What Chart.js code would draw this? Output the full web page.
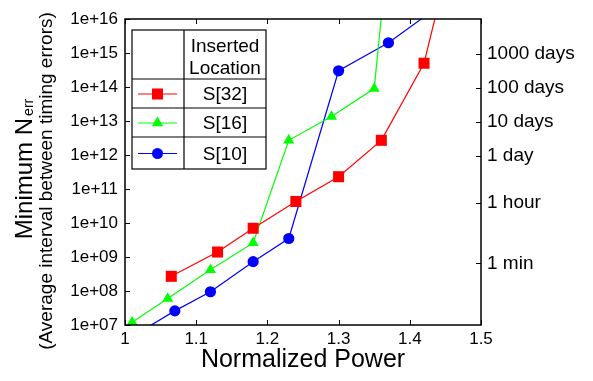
<!DOCTYPE html>
<html lang="en">
<head>
    <meta charset="UTF-8">
    <title>Minimum Nerr vs Normalized Power</title>
    <script src="https://cdn.jsdelivr.net/npm/chart.js"></script>
    <style>
        body { margin: 0; background: #fff; }
    </style>
</head>
<body>
    <canvas id="myChart" width="593" height="381"></canvas>
    <script>
        // Data (x = normalized power, y = minimum N_err)
        const powerS32 = [1.065, 1.13, 1.18, 1.24, 1.30, 1.36, 1.42, 1.44];
        const nerrS32  = [2.7e8, 1.4e9, 7e9, 4.3e10, 2.3e11, 2.7e12, 5e14, 2.6e16];

        const powerS16 = [1.01, 1.06, 1.12, 1.18, 1.23, 1.29, 1.35, 1.37];
        const nerrS16  = [1.2e7, 6e7, 4.2e8, 2.6e9, 2.7e12, 1.35e13, 9e13, 1.5e18];

        const powerS10 = [1.01, 1.07, 1.12, 1.18, 1.23, 1.30, 1.37, 1.44];
        const nerrS10  = [4.6e6, 2.6e7, 9.5e7, 7.3e8, 3.5e9, 3e14, 2e15, 2.3e16];

        // Tick labels
        const xTicks = [1, 1.1, 1.2, 1.3, 1.4, 1.5];
        const xTickLabels = ['1', '1.1', '1.2', '1.3', '1.4', '1.5'];
        const yTicks = [1e7, 1e8, 1e9, 1e10, 1e11, 1e12, 1e13, 1e14, 1e15, 1e16];
        const yTickLabels = ['1e+07', '1e+08', '1e+09', '1e+10', '1e+11', '1e+12', '1e+13', '1e+14', '1e+15', '1e+16'];
        // right axis: time in seconds
        const timeSeconds = [60, 3600, 86400, 864000, 8640000, 86400000];
        const timeLabels = ['1 min', '1 hour', '1 day', '10 days', '100 days', '1000 days'];
        const errorsPerSecond = 1.08e7;

        const seriesNames = ['S[32]', 'S[16]', 'S[10]'];
        const seriesColors = ['#ff0000', '#00ff00', '#0000ff'];
        const seriesMarkers = ['rect', 'triangle', 'circle'];

        const FONT = '"Liberation Sans", Arial, Helvetica, sans-serif';

        function toPoints(xs, ys) {
            return xs.map((x, i) => ({ x: x, y: ys[i] }));
        }

        // axis frame, inward ticks, y title and the table legend
        const decorPlugin = {
            id: 'decor',
            afterDraw(chart) {
                const ctx = chart.ctx;
                const a = chart.chartArea;
                const sx = chart.scales.x, sy = chart.scales.y, sy2 = chart.scales.y2;
                ctx.save();
                ctx.strokeStyle = '#000';
                ctx.lineWidth = 1.5;
                ctx.strokeRect(a.left, a.top, a.right - a.left, a.bottom - a.top);

                ctx.lineWidth = 1;
                ctx.beginPath();
                xTicks.forEach(v => {
                    const px = Math.round(sx.getPixelForValue(v)) + 0.5;
                    ctx.moveTo(px, a.bottom); ctx.lineTo(px, a.bottom - 5);
                    ctx.moveTo(px, a.top); ctx.lineTo(px, a.top + 5);
                });
                yTicks.forEach(v => {
                    const py = Math.round(sy.getPixelForValue(v)) + 0.5;
                    ctx.moveTo(a.left, py); ctx.lineTo(a.left + 5, py);
                });
                timeSeconds.forEach(s => {
                    const py = Math.round(sy2.getPixelForValue(s * errorsPerSecond)) + 0.5;
                    ctx.moveTo(a.right, py); ctx.lineTo(a.right - 5, py);
                });
                ctx.stroke();

                // y axis title with subscript
                ctx.fillStyle = '#000';
                ctx.save();
                ctx.translate(32, 169);
                ctx.rotate(-Math.PI / 2);
                ctx.textBaseline = 'alphabetic';
                ctx.textAlign = 'left';
                ctx.font = '24px ' + FONT;
                const main = 'Minimum N';
                const w1 = ctx.measureText(main).width;
                ctx.font = '14px ' + FONT;
                const w2 = ctx.measureText('err').width;
                const start = -(w1 + w2 + 2) / 2;
                ctx.font = '24px ' + FONT;
                ctx.fillText(main, start, 0);
                ctx.font = '14px ' + FONT;
                ctx.fillText('err', start + w1 + 2, 1);
                ctx.restore();

                ctx.save();
                ctx.translate(52, 181);
                ctx.rotate(-Math.PI / 2);
                ctx.textAlign = 'center';
                ctx.textBaseline = 'alphabetic';
                ctx.font = '19px ' + FONT;
                ctx.fillText('(Average interval between timing errors)', 0, 0);
                ctx.restore();

                // legend table
                const L = 132, R = 266, T = 30, B = 169, mid = 184;
                const rows = [79, 108, 137];
                ctx.fillStyle = '#fff';
                ctx.fillRect(L, T, R - L, B - T);
                ctx.strokeStyle = '#000';
                ctx.lineWidth = 1.2;
                ctx.strokeRect(L, T, R - L, B - T);
                ctx.beginPath();
                ctx.moveTo(mid, T); ctx.lineTo(mid, B);
                rows.forEach(y => { ctx.moveTo(L, y); ctx.lineTo(R, y); });
                ctx.stroke();

                ctx.fillStyle = '#000';
                ctx.font = '19px ' + FONT;
                ctx.textAlign = 'center';
                ctx.textBaseline = 'alphabetic';
                ctx.fillText('Inserted', (mid + R) / 2, 52);
                ctx.fillText('Location', (mid + R) / 2, 74);

                const edges = rows.concat([B]);
                ctx.textBaseline = 'middle';
                seriesNames.forEach((name, i) => {
                    const cy = (edges[i] + edges[i + 1]) / 2 + 0.5;
                    ctx.fillStyle = '#000';
                    ctx.fillText(name, (mid + R) / 2, cy + 1);
                    ctx.strokeStyle = seriesColors[i];
                    ctx.fillStyle = seriesColors[i];
                    ctx.lineWidth = 1.2;
                    ctx.beginPath();
                    ctx.moveTo(138, cy); ctx.lineTo(177, cy);
                    ctx.stroke();
                    const cx = 157.5;
                    ctx.beginPath();
                    if (seriesMarkers[i] === 'rect') {
                        ctx.rect(cx - 5.5, cy - 5.5, 11, 11);
                    } else if (seriesMarkers[i] === 'triangle') {
                        ctx.moveTo(cx, cy - 6.5);
                        ctx.lineTo(cx + 5.6, cy + 3.3);
                        ctx.lineTo(cx - 5.6, cy + 3.3);
                        ctx.closePath();
                    } else {
                        ctx.arc(cx, cy, 5.5, 0, Math.PI * 2);
                    }
                    ctx.fill();
                });
                ctx.restore();
            }
        };

        function drawChart() {
            const ctx = document.getElementById('myChart').getContext('2d');
            const sets = [[powerS32, nerrS32], [powerS16, nerrS16], [powerS10, nerrS10]];
            const radii = [7.8, 6.4, 5.6];
            const datasets = sets.map((s, i) => ({
                label: seriesNames[i],
                data: toPoints(s[0], s[1]),
                borderColor: seriesColors[i],
                backgroundColor: seriesColors[i],
                borderWidth: 1.2,
                pointStyle: seriesMarkers[i],
                pointRadius: radii[i],
                pointBorderWidth: 0,
                tension: 0,
                yAxisID: 'y'
            }));

            new Chart(ctx, {
                type: 'line',
                data: { datasets: datasets },
                plugins: [decorPlugin],
                options: {
                    responsive: false,
                    animation: false,
                    layout: { padding: { top: 19 } },
                    plugins: {
                        legend: { display: false },
                        tooltip: { enabled: false }
                    },
                    scales: {
                        x: {
                            type: 'linear',
                            min: 1,
                            max: 1.5,
                            grid: { display: false, drawTicks: false, tickLength: 0 },
                            border: { display: false },
                            afterBuildTicks: scale => { scale.ticks = xTicks.map(v => ({ value: v })); },
                            afterFit: scale => { scale.height = 56; },
                            ticks: {
                                color: '#000',
                                padding: 4,
                                font: { family: FONT, size: 17 },
                                maxRotation: 0,
                                callback: (v, i) => xTickLabels[i]
                            },
                            title: {
                                display: true,
                                text: 'Normalized Power',
                                color: '#000',
                                font: { family: FONT, size: 25 },
                                padding: { top: 0, bottom: 6 }
                            }
                        },
                        y: {
                            type: 'logarithmic',
                            position: 'left',
                            min: 1e7,
                            max: 1e16,
                            grid: { display: false, drawTicks: false, tickLength: 0 },
                            border: { display: false },
                            afterBuildTicks: scale => { scale.ticks = yTicks.map(v => ({ value: v })); },
                            afterFit: scale => { scale.width = 125; },
                            ticks: {
                                color: '#000',
                                padding: 7,
                                font: { family: FONT, size: 17 },
                                callback: (v, i) => yTickLabels[i]
                            }
                        },
                        y2: {
                            type: 'logarithmic',
                            position: 'right',
                            min: 1e7,
                            max: 1e16,
                            grid: { display: false, drawTicks: false, tickLength: 0 },
                            border: { display: false },
                            afterBuildTicks: scale => { scale.ticks = timeSeconds.map(s => ({ value: s * errorsPerSecond })); },
                            afterFit: scale => { scale.width = 112; },
                            ticks: {
                                color: '#000',
                                padding: 6,
                                font: { family: FONT, size: 19 },
                                callback: (v, i) => timeLabels[i]
                            }
                        }
                    }
                }
            });
        }

        window.onload = drawChart;
    </script>
</body>
</html>
